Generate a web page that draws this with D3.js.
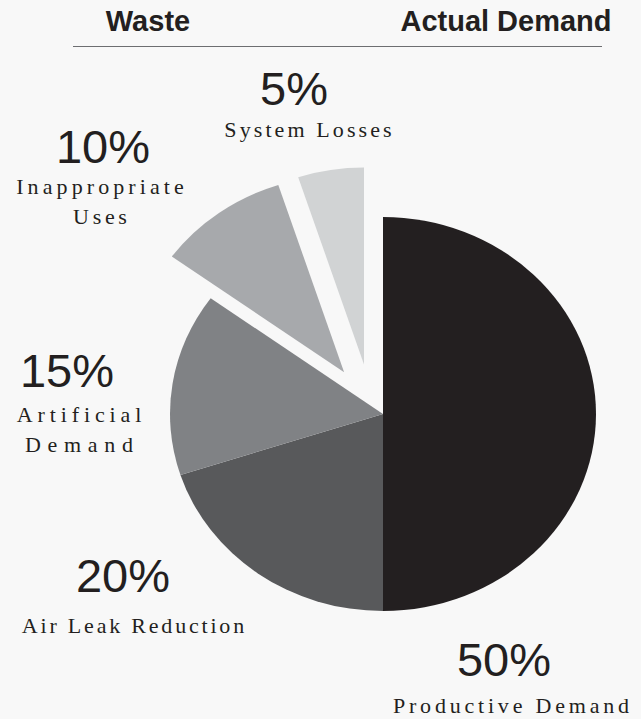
<!DOCTYPE html>
<html>
<head>
<meta charset="utf-8">
<script src="https://cdn.jsdelivr.net/npm/d3@7"></script>
<style>
  html, body { margin: 0; padding: 0; background: #f8f8f8; }
  svg { display: block; }
</style>
</head>
<body>
<div id="chart"></div>
<script>
// data
const categories = ['Productive Demand', 'Air Leak Reduction', 'Artificial Demand', 'Inappropriate Uses', 'System Losses']
const shares = [50, 20, 15, 10, 5]
const labelLines = [['Productive Demand'], ['Air Leak Reduction'], ['Artificial', 'Demand'], ['Inappropriate', 'Uses'], ['System Losses']]
const headers = ['Waste', 'Actual Demand']

// styling / layout
const sliceColors = ['#231f20', '#58595b', '#808285', '#a7a9ac', '#d1d3d4']
// explode: distance in px, direction in degrees clockwise from top
const explode = [[0, 0], [0, 0], [0, 0], [57, 317], [53, 339]]
const labelLayout = [
  { px: 504, py: 676, nx: 511, ny: [713], ls: [3.8] },
  { px: 123, py: 592, nx: 133, ny: [633], ls: [2.8] },
  { px: 67, py: 387, nx: 79, ny: [422, 452], ls: [4.9, 6.7] },
  { px: 103, py: 163, nx: 100, ny: [194, 224], ls: [4.1, 3.7] },
  { px: 294, py: 105, nx: 308, ny: [137], ls: [3.1] }
]

const width = 641
const height = 719
const cx = 383
const cy = 414
const radius = 213
const squash = 0.925

const svg = d3
  .select('#chart')
  .append('svg')
  .attr('width', width)
  .attr('height', height)

svg
  .append('rect')
  .attr('width', width)
  .attr('height', height)
  .attr('fill', '#f8f8f8')

// header
svg
  .selectAll('.header')
  .data(headers)
  .enter()
  .append('text')
  .attr('class', 'header')
  .attr('x', (d, i) => (i === 0 ? 148 : 506))
  .attr('y', 31)
  .attr('text-anchor', 'middle')
  .attr('font-family', 'Liberation Sans, Arial, sans-serif')
  .attr('font-weight', 'bold')
  .attr('font-size', 29)
  .attr('fill', '#231f20')
  .text(d => d)

svg
  .append('line')
  .attr('x1', 73)
  .attr('x2', 602)
  .attr('y1', 46.5)
  .attr('y2', 46.5)
  .attr('stroke', '#6d6e71')
  .attr('stroke-width', 1.2)

// pie
const pie = d3.pie().sort(null).value(d => d)
const arc = d3.arc().innerRadius(0).outerRadius(radius)

const arcs = pie(shares)

svg
  .append('g')
  .attr('transform', 'translate(' + cx + ',' + cy + ')')
  .selectAll('path')
  .data(arcs)
  .enter()
  .append('path')
  .attr('transform', (d, i) => {
    const [dist, deg] = explode[i]
    const a = deg * Math.PI / 180
    const dx = dist * Math.sin(a)
    const dy = -dist * Math.cos(a)
    return 'translate(' + dx + ',' + dy + ') scale(1,' + squash + ')'
  })
  .attr('d', arc)
  .attr('fill', (d, i) => sliceColors[i])

// labels
const labels = svg
  .selectAll('.label')
  .data(categories)
  .enter()
  .append('g')
  .attr('class', 'label')

labels
  .append('text')
  .attr('x', (d, i) => labelLayout[i].px)
  .attr('y', (d, i) => labelLayout[i].py)
  .attr('text-anchor', 'middle')
  .attr('font-family', 'Liberation Sans, Arial, sans-serif')
  .attr('font-size', 47)
  .attr('fill', '#231f20')
  .text((d, i) => shares[i] + '%')

labels.each(function(d, i) {
  const lay = labelLayout[i]
  labelLines[i].forEach((line, j) => {
    d3.select(this)
      .append('text')
      .attr('x', lay.nx + lay.ls[j] / 2)
      .attr('y', lay.ny[j])
      .attr('text-anchor', 'middle')
      .attr('font-family', 'Liberation Serif, Times New Roman, serif')
      .attr('font-size', 22)
      .attr('letter-spacing', lay.ls[j])
      .attr('fill', '#231f20')
      .text(line)
  })
})
</script>
</body>
</html>
